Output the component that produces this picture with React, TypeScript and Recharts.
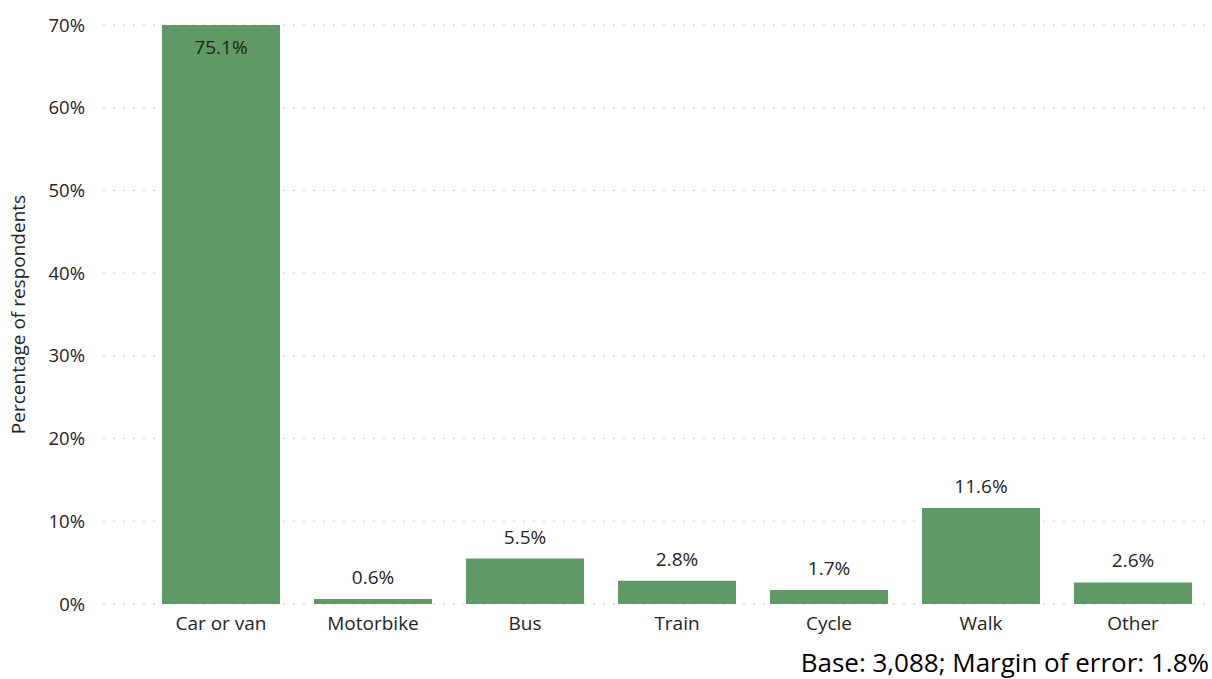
import React from "react";
import { BarChart, Bar, XAxis, YAxis, CartesianGrid, LabelList, Label } from "recharts";

const categories = ["Car or van", "Motorbike", "Bus", "Train", "Cycle", "Walk", "Other"];
const shares = [75.1, 0.6, 5.5, 2.8, 1.7, 11.6, 2.6];
const yTicks = [0, 10, 20, 30, 40, 50, 60, 70];

const data = categories.map((name, i) => ({ name, value: shares[i] }));

const FONT = "'Open Sans', 'Noto Sans', sans-serif";
const Y_MAX = 70;

// label sits inside the bar when the bar runs past the top of the axis
function ValueLabel(props: any) {
  const { x, y, width, value } = props;
  const cx = x + width / 2;
  const clipped = value > Y_MAX;
  return (
    <text
      x={cx}
      y={clipped ? 54 : y - 15}
      textAnchor="middle"
      fontSize={19}
      fontFamily={FONT}
      fill="#252423"
    >
      {value.toFixed(1)}%
    </text>
  );
}

export default function App() {
  return (
    <div style={{ position: "absolute", left: 0, top: 0, width: 1212, height: 679, background: "#fff" }}>
      <BarChart
        width={1212}
        height={679}
        data={data}
        margin={{ top: 25, right: 3, left: 0, bottom: 45 }}
      >
        <CartesianGrid
          horizontal={true}
          vertical={false}
          stroke="#c8c8c8"
          strokeDasharray="2 8"
        />
        <XAxis
          dataKey="name"
          axisLine={false}
          tickLine={false}
          height={30}
          padding={{ left: 42, right: 0 }}
          tick={{ fontSize: 19, fontFamily: FONT, fill: "#252423" }}
          tickMargin={7}
        />
        <YAxis
          width={103}
          domain={[0, Y_MAX]}
          ticks={yTicks}
          allowDataOverflow
          axisLine={false}
          tickLine={false}
          tickMargin={12}
          tickFormatter={(v) => v + "%"}
          tick={{ fontSize: 18.5, fontFamily: FONT, fill: "#252423" }}
        >
          <Label
            value="Percentage of respondents"
            angle={-90}
            position="insideLeft"
            offset={18}
            style={{ fontSize: 19, fontFamily: FONT, fill: "#252423", textAnchor: "middle" }}
          />
        </YAxis>
        <Bar dataKey="value" fill="#5e9966" barSize={118} isAnimationActive={false}>
          <LabelList dataKey="value" content={<ValueLabel />} />
        </Bar>
        <text
          x={1209}
          y={672}
          textAnchor="end"
          fontSize={26}
          fontFamily={FONT}
          fill="#000"
        >
          Base: 3,088; Margin of error: 1.8%
        </text>
      </BarChart>
    </div>
  );
}
